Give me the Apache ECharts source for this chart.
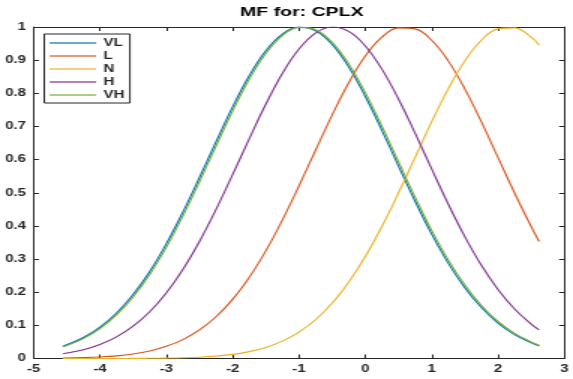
<!DOCTYPE html>
<html>
<head>
<meta charset="utf-8">
<script src="https://cdn.jsdelivr.net/npm/echarts@6/dist/echarts.min.js"></script>
<style>
  html, body { margin: 0; padding: 0; background: #fff; }
  /* The figure is laid out narrow and widened 1.5x, like a stretched export */
  #chart { width: 382px; height: 379px; transform: scaleX(1.5); transform-origin: 0 0; }
</style>
</head>
<body>
<div id="chart"></div>
<script>
// Input samples of the CPLX variable
const xs = [-4.56, -4.25, -4.0, -3.75, -3.5, -3.25, -3.0, -2.75, -2.5, -2.25,
            -2.0, -1.75, -1.5, -1.25, -1.0, -0.75, -0.5, -0.25, 0.0, 0.25,
            0.5, 0.75, 1.0, 1.25, 1.5, 1.75, 2.0, 2.25, 2.5, 2.62];

// Membership degree of each fuzzy set at those samples
const vl = [0.0367, 0.0632, 0.0947, 0.1373, 0.1929, 0.2624, 0.3459, 0.4416, 0.5461, 0.6541,
            0.7589, 0.8528, 0.9283, 0.9788, 0.9996, 0.9888, 0.9475, 0.8793, 0.7905, 0.6883,
            0.5805, 0.4743, 0.3753, 0.2877, 0.2136, 0.1536, 0.1070, 0.0722, 0.0472, 0.0380];
const l  = [0.0011, 0.0025, 0.0045, 0.0080, 0.0137, 0.0228, 0.0367, 0.0571, 0.0862, 0.1259,
            0.1783, 0.2444, 0.3247, 0.4176, 0.5204, 0.6282, 0.7344, 0.8317, 0.9123, 0.9692,
            0.9975, 0.9943, 0.9600, 0.8978, 0.8133, 0.7137, 0.6065, 0.4993, 0.3981, 0.3531];
const n  = [0.00001, 0.00003, 0.00006, 0.00014, 0.00029, 0.00059, 0.0012, 0.0022, 0.0040, 0.0072,
            0.0124, 0.0207, 0.0334, 0.0524, 0.0796, 0.1170, 0.1667, 0.2301, 0.3075, 0.3981,
            0.4993, 0.6065, 0.7137, 0.8133, 0.8978, 0.9600, 0.9943, 0.9975, 0.9692, 0.9452];
const h  = [0.0143, 0.0266, 0.0424, 0.0654, 0.0976, 0.1412, 0.1979, 0.2686, 0.3531, 0.4497,
            0.5547, 0.6627, 0.7669, 0.8596, 0.9333, 0.9816, 0.9999, 0.9866, 0.9429, 0.8729,
            0.7827, 0.6798, 0.5719, 0.4660, 0.3678, 0.2812, 0.2083, 0.1494, 0.1038, 0.0862];
const vh = [0.0347, 0.0601, 0.0903, 0.1315, 0.1855, 0.2533, 0.3352, 0.4295, 0.5332, 0.6411,
            0.7467, 0.8424, 0.9204, 0.9742, 0.9988, 0.9918, 0.9539, 0.8887, 0.8020, 0.7010,
            0.5935, 0.4868, 0.3867, 0.2975, 0.2217, 0.1601, 0.1119, 0.0758, 0.0497, 0.0402];

const setNames  = ['VL', 'L', 'N', 'H', 'VH'];
const setValues = [vl, l, n, h, vh];
const setColors = ['#0072BD', '#D95319', '#EDB120', '#7E2F8E', '#77AC30'];

const xTicks = { min: -5, max: 3, step: 1 };
const yTicks = { min: 0, max: 1, step: 0.1 };

const ink = '#262626';
const font = '"Liberation Sans", Arial, Helvetica, sans-serif';

function frameAxis(pos, range, labels, tickLen, margin) {
  return {
    type: 'value',
    position: pos,
    min: range.min, max: range.max, interval: range.step,
    axisLine: { show: true, onZero: false, lineStyle: { color: ink, width: 1 } },
    axisTick: { show: true, inside: true, length: tickLen, lineStyle: { color: ink, width: 1 } },
    axisLabel: { show: labels, color: ink, fontSize: 10, fontWeight: 'bold', fontFamily: font, margin: margin },
    splitLine: { show: false }
  };
}

const chart = echarts.init(document.getElementById('chart'), null, { renderer: 'canvas' });
chart.setOption({
  animation: false,
  backgroundColor: '#fff',
  title: {
    text: 'MF for: CPLX',
    left: 160, top: 6, padding: 0,
    textStyle: { fontSize: 13, fontWeight: 'bold', color: '#000', fontFamily: font }
  },
  grid: { left: 22.4, right: 2.7, top: 27, bottom: 20.5, containLabel: false },
  legend: {
    orient: 'vertical',
    left: 29.5, top: 34,
    padding: [4, 3.6, 3, 3],
    itemWidth: 31, itemHeight: 10, itemGap: 3,
    itemStyle: { opacity: 0 },
    lineStyle: { width: 1.2 },
    backgroundColor: '#fff',
    borderColor: ink, borderWidth: 1, borderRadius: 0,
    textStyle: { fontSize: 10, fontWeight: 'bold', color: ink, fontFamily: font },
    data: setNames
  },
  xAxis: [
    frameAxis('bottom', xTicks, true, 4, 6),
    frameAxis('top', xTicks, false, 4, 6)
  ],
  yAxis: [
    frameAxis('left', yTicks, true, 3.5, 5),
    frameAxis('right', yTicks, false, 3.5, 5)
  ],
  series: setNames.map((name, i) => ({
    name: name,
    type: 'line',
    xAxisIndex: 0, yAxisIndex: 0,
    symbol: 'none',
    smooth: 0.4,
    color: setColors[i],
    lineStyle: { width: 1.1, color: setColors[i] },
    data: xs.map((x, k) => [x, setValues[i][k]])
  }))
});
</script>
</body>
</html>
